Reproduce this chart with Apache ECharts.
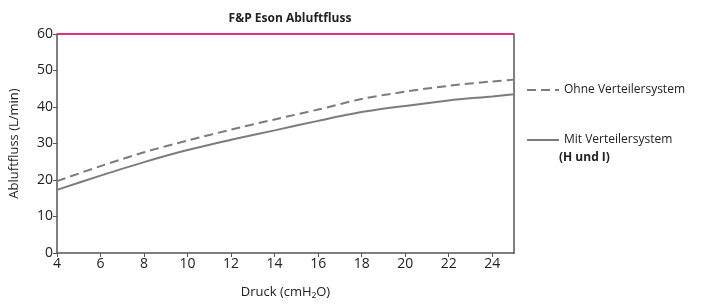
<!DOCTYPE html>
<html><head><meta charset="utf-8">
<script src="https://cdn.jsdelivr.net/npm/echarts@6/dist/echarts.min.js"></script>
<style>html,body{margin:0;padding:0;background:#fff}#c{width:710px;height:304px}</style>
</head><body><div id="c"></div>
<script>
const pressure = [4, 6, 8, 10, 12, 14, 16, 18, 20, 22, 24, 25];
const ohneVerteiler = [19.7, 23.8, 27.6, 30.8, 33.8, 36.6, 39.3, 42.2, 44.2, 45.8, 47.0, 47.5];
const mitVerteiler = [17.3, 21.2, 24.9, 28.2, 31.0, 33.6, 36.2, 38.6, 40.3, 41.8, 42.9, 43.5];
const seriesNames = ['Ohne Verteilersystem', 'Mit Verteilersystem'];
const titleText = 'F&P Eson Abluftfluss';
const xName = 'Druck (cmH\u2082O)';
const yName = 'Abluftfluss (L/min)';
const noteText = '(H und I)';

const font = 'Open Sans';
const axisColor = '#555';
const lineColor = '#7b7b82';

const legendCommon = {orient: 'vertical', itemWidth: 32, itemHeight: 14, itemGap: 0,
  itemStyle: {color: 'transparent', borderWidth: 0, opacity: 0},
  textStyle: {fontFamily: font, fontSize: 12, color: '#222'}};

const chart = echarts.init(document.getElementById('c'), null, {renderer: 'canvas'});
chart.setOption({
  animation: false,
  textStyle: {fontFamily: font},
  title: {text: titleText, left: 285, top: 8, textAlign: 'center',
    textStyle: {fontFamily: font, fontSize: 12, fontWeight: 'bold', color: '#222'}},
  grid: {left: 56, right: 196, top: 34, bottom: 45, containLabel: false},
  legend: [
    Object.assign({data: [seriesNames[0]], left: 521, top: 79}, legendCommon),
    Object.assign({data: [seriesNames[1]], left: 521, top: 129}, legendCommon)
  ],
  graphic: [{type: 'text', left: 559, top: 152,
    style: {text: noteText, font: 'bold 12px "Open Sans"', fill: '#222'}}],
  xAxis: {type: 'value', min: 4, max: 25, interval: 2,
    name: xName, nameLocation: 'middle', nameGap: 33,
    nameTextStyle: {fontFamily: font, fontSize: 13, color: '#222'},
    axisLine: {show: true, onZero: false, lineStyle: {color: axisColor, width: 1.5}},
    axisTick: {show: true, length: 4, lineStyle: {color: axisColor}},
    axisLabel: {fontFamily: font, fontSize: 14, color: '#222', margin: 4, showMaxLabel: false},
    splitLine: {show: false}},
  yAxis: [{type: 'value', min: 0, max: 60, interval: 10,
    name: yName, nameLocation: 'middle', nameGap: 36,
    nameTextStyle: {fontFamily: font, fontSize: 13, color: '#222'},
    axisLine: {show: true, lineStyle: {color: axisColor, width: 1.5}},
    axisTick: {show: true, length: 4, lineStyle: {color: axisColor}},
    axisLabel: {fontFamily: font, fontSize: 14, color: '#222', margin: 4},
    splitLine: {show: false}},
   {type: 'value', min: 0, max: 60, interval: 10, position: 'right',
    axisLine: {show: true, lineStyle: {color: axisColor, width: 1.5}},
    axisTick: {show: false}, axisLabel: {show: false}, splitLine: {show: false}}],
  series: [
    {name: seriesNames[0], type: 'line', smooth: 0.3, symbol: 'none',
      data: pressure.map((p, i) => [p, ohneVerteiler[i]]),
      lineStyle: {color: lineColor, width: 2, type: [9, 5]}, itemStyle: {color: lineColor},
      markLine: {silent: true, symbol: 'none', label: {show: false},
        lineStyle: {color: '#e2307c', width: 2, type: 'solid'},
        data: [{yAxis: 60}]}},
    {name: seriesNames[1], type: 'line', smooth: 0.3, symbol: 'none',
      data: pressure.map((p, i) => [p, mitVerteiler[i]]),
      lineStyle: {color: lineColor, width: 2, type: 'solid'}, itemStyle: {color: lineColor}}
  ]
});
</script></body></html>
